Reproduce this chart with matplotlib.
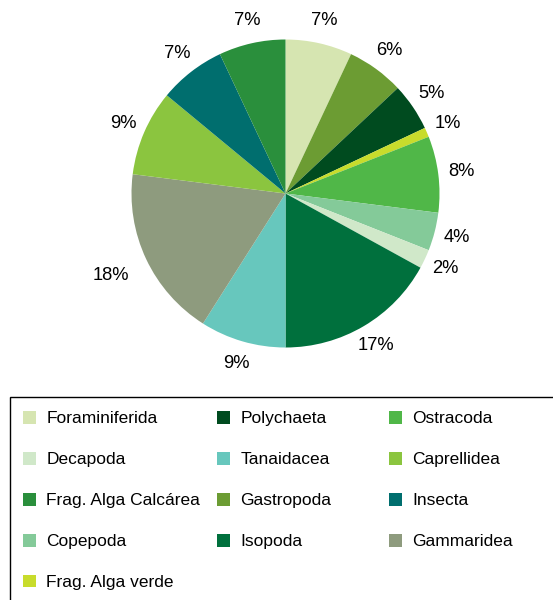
import numpy as np
import matplotlib
matplotlib.use("Agg")
import matplotlib.pyplot as plt
from matplotlib.patches import Rectangle

plt.rcParams["font.family"] = ["Liberation Sans", "DejaVu Sans"]

# ── data (clockwise from 12 o'clock) ──────────────────────────────────────────
groups = ["Foraminiferida", "Gastropoda", "Polychaeta", "Frag. Alga verde",
          "Ostracoda", "Copepoda", "Decapoda", "Isopoda", "Tanaidacea",
          "Gammaridea", "Caprellidea", "Insecta", "Frag. Alga Calcárea"]
shares = [7, 6, 5, 1, 8, 4, 2, 17, 9, 18, 9, 7, 7]
colors = ["#d6e5b1", "#6c9c33", "#004b1f", "#c8dc2c", "#50b748", "#84ca99",
          "#d0e8c9", "#00703d", "#67c7bd", "#8e9b7e", "#8bc53f", "#006e6e",
          "#2a8f3c"]

# legend columns as in the reference
legend_cols = [
    ["Foraminiferida", "Decapoda", "Frag. Alga Calcárea", "Copepoda", "Frag. Alga verde"],
    ["Polychaeta", "Tanaidacea", "Gastropoda", "Isopoda"],
    ["Ostracoda", "Caprellidea", "Insecta", "Gammaridea"],
]

W, H = 553, 600
FS = 12.5
fig = plt.figure(figsize=(W / 100, H / 100), dpi=100)
fig.patch.set_facecolor("white")

# pie: centre (285.5, 193.5) px, radius 154 px
cx, cy, r = 285.5, 193.5, 154
ax = fig.add_axes([(cx - r) / W, 1 - (cy + r) / H, 2 * r / W, 2 * r / H])
wedges, _ = ax.pie(shares, colors=colors, startangle=90, counterclock=False,
                   radius=1, wedgeprops=dict(linewidth=0))
ax.set_xlim(-1, 1)
ax.set_ylim(-1, 1)
ax.set_aspect("equal")
ax.axis("off")

# percentage labels outside the pie
label_r = [1.25 if g == "Gammaridea" else 1.15 for g in groups]
for w, s, lr in zip(wedges, shares, label_r):
    ang = np.deg2rad((w.theta1 + w.theta2) / 2)
    ax.text(lr * np.cos(ang), lr * np.sin(ang), f"{s}%", ha="center",
            va="center", fontsize=13.2, clip_on=False)

# legend: one legend per column, plus a frame drawn around them
handle_of = dict(zip(groups, wedges))
col_x = [23, 217, 389]
for names, x in zip(legend_cols, col_x):
    lg = fig.legend([handle_of[n] for n in names], names, loc="upper left",
                    bbox_to_anchor=(x / W, 1 - 411 / H), frameon=False,
                    fontsize=FS, borderpad=0, borderaxespad=0,
                    handlelength=0.75, handleheight=0.75, handletextpad=0.6,
                    labelspacing=1.47)

fig.patches.append(Rectangle((9.5 / W, -0.1), 1.2, 1 - 396.5 / H + 0.1,
                             transform=fig.transFigure, fill=False,
                             edgecolor="black", linewidth=1.0))

fig.savefig("out.png", dpi=100)
